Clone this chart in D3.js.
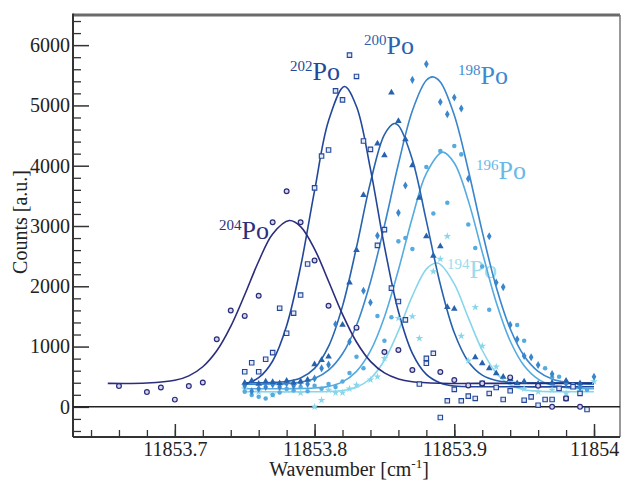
<!DOCTYPE html>
<html>
<head>
<meta charset="utf-8">
<script src="https://cdn.jsdelivr.net/npm/d3@7"></script>
<style>
  html, body { margin: 0; padding: 0; background: #fff; }
  svg { display: block; }
  text { font-family: "Liberation Serif", "Times New Roman", serif; }
</style>
</head>
<body>
<svg id="chart" width="622" height="481"></svg>
<script>
// ---------------- data ----------------
const xTickValues = [11853.7, 11853.8, 11853.9, 11854];
const xTickLabels = ["11853.7", "11853.8", "11853.9", "11854"];
const yTickValues = [0, 1000, 2000, 3000, 4000, 5000, 6000];
const yTickLabels = ["0", "1000", "2000", "3000", "4000", "5000", "6000"];

const isotopes = ["204", "202", "200", "198", "196", "194"];

// measured points [wavenumber, counts]
const po204Points = [[11853.66,344],[11853.68,245],[11853.69,320],[11853.70,120],[11853.71,344],[11853.72,403],[11853.73,1121],[11853.74,1597],[11853.75,1509],[11853.76,1842],[11853.77,3062],[11853.78,3577],[11853.79,3062],[11853.80,2428],[11853.81,1676],[11853.83,1314],[11853.85,910],[11853.86,943],[11853.87,611],[11853.89,577],[11853.90,444],[11853.91,356],[11853.92,389],[11853.94,489],[11853.96,349],[11853.97,0],[11853.98,140],[11853.99,0]];
const po202Points = [[11853.75,582],[11853.755,732],[11853.76,582],[11853.765,789],[11853.77,899],[11853.775,1637],[11853.78,1221],[11853.785,1554],[11853.79,1854],[11853.795,2369],[11853.80,3633],[11853.805,4160],[11853.81,4260],[11853.815,5241],[11853.82,5092],[11853.825,5835],[11853.83,5481],[11853.835,4409],[11853.84,4271],[11853.845,2679],[11853.85,2940],[11853.855,1970],[11853.86,1747],[11853.865,1443],[11853.875,378],[11853.88,805],[11853.88,722],[11853.885,888],[11853.89,-176],[11853.895,100],[11853.90,290],[11853.905,100],[11853.91,178],[11853.915,140],[11853.92,389],[11853.925,223],[11853.93,322],[11853.935,123],[11853.94,266],[11853.95,111],[11853.955,166],[11853.96,28],[11853.965,123],[11853.97,123],[11853.975,306],[11853.98,140],[11853.985,333],[11853.99,223],[11853.995,-44]];
const po200Points = [[11853.75,400],[11853.755,430],[11853.76,380],[11853.765,420],[11853.77,410],[11853.775,390],[11853.78,430],[11853.785,400],[11853.79,420],[11853.795,450],[11853.80,705],[11853.805,777],[11853.81,832],[11853.82,1359],[11853.825,2060],[11853.83,2600],[11853.835,3511],[11853.845,4366],[11853.85,4171],[11853.855,5215],[11853.86,4742],[11853.865,4438],[11853.87,4005],[11853.875,3468],[11853.88,2829],[11853.885,2507],[11853.89,2662],[11853.895,1654],[11853.90,1626],[11853.915,822],[11853.92,722],[11853.925,639],[11853.93,555],[11853.935,499],[11853.94,460],[11853.945,389],[11853.95,420],[11853.96,380],[11853.97,400],[11853.98,430],[11853.99,390]];
const po198Points = [[11853.75,350],[11853.755,260],[11853.76,300],[11853.765,330],[11853.77,370],[11853.775,330],[11853.78,390],[11853.785,350],[11853.79,410],[11853.795,380],[11853.80,470],[11853.805,639],[11853.81,700],[11853.815,1371],[11853.825,1081],[11853.835,1925],[11853.84,1731],[11853.845,2840],[11853.86,3218],[11853.865,3672],[11853.87,5424],[11853.88,5686],[11853.89,5058],[11853.895,4853],[11853.90,5131],[11853.905,4948],[11853.91,3784],[11853.925,2829],[11853.93,2063],[11853.935,1987],[11853.94,1359],[11853.945,1121],[11853.95,844],[11853.955,822],[11853.96,694],[11853.97,544],[11853.98,389],[11853.99,322],[11854.0,499]];
const po196Points = [[11853.75,250],[11853.755,195],[11853.76,166],[11853.765,140],[11853.77,195],[11853.775,240],[11853.78,300],[11853.785,270],[11853.79,330],[11853.795,260],[11853.80,350],[11853.805,300],[11853.81,380],[11853.815,330],[11853.82,420],[11853.825,560],[11853.83,832],[11853.835,639],[11853.845,1509],[11853.85,1098],[11853.855,1488],[11853.86,2745],[11853.865,2800],[11853.87,2619],[11853.88,3977],[11853.885,3206],[11853.89,4243],[11853.895,3384],[11853.90,4326],[11853.905,4188],[11853.91,3023],[11853.915,2635],[11853.92,2330],[11853.925,1609],[11853.945,1359],[11853.95,1098],[11853.965,639],[11853.97,489],[11853.975,499],[11853.985,361],[11853.99,330],[11853.995,280]];
const po194Points = [[11853.75,300],[11853.76,250],[11853.77,200],[11853.78,280],[11853.79,230],[11853.80,0],[11853.805,111],[11853.81,280],[11853.815,233],[11853.82,233],[11853.825,300],[11853.83,361],[11853.84,450],[11853.845,500],[11853.85,805],[11853.86,1471],[11853.87,1498],[11853.875,1138],[11853.885,2246],[11853.89,2453],[11853.895,2829],[11853.905,1176],[11853.91,765],[11853.915,1654],[11853.92,1010],[11853.93,666],[11853.94,456],[11853.95,300],[11853.96,250],[11853.97,280],[11853.98,220],[11853.99,260],[11854.0,420]];

// fitted curves [wavenumber, counts]
const fit204 = [[11853.652,390],[11853.68,395],[11853.70,440],[11853.71,514],[11853.72,665],[11853.73,930],[11853.74,1335],[11853.75,1859],[11853.76,2415],[11853.77,2869],[11853.782,3090],[11853.79,2990],[11853.80,2617],[11853.81,2084],[11853.82,1534],[11853.83,1076],[11853.84,755],[11853.85,563],[11853.86,463],[11853.87,417],[11853.89,392],[11853.93,390],[11854.0,390]];
const fit202 = [[11853.75,377],[11853.76,483],[11853.77,761],[11853.78,1346],[11853.79,2325],[11853.80,3587],[11853.81,4745],[11853.8214,5313],[11853.83,4982],[11853.84,3944],[11853.85,2662],[11853.86,1581],[11853.87,888],[11853.88,538],[11853.89,396],[11853.90,345],[11853.92,334],[11854.0,333]];
const fit200 = [[11853.75,400],[11853.77,405],[11853.78,422],[11853.79,479],[11853.80,639],[11853.81,1002],[11853.82,1671],[11853.83,2647],[11853.84,3724],[11853.85,4516],[11853.857,4700],[11853.86,4666],[11853.87,4100],[11853.88,3085],[11853.89,2031],[11853.90,1229],[11853.91,753],[11853.92,526],[11853.93,437],[11853.94,409],[11853.96,400],[11854.0,400]];
const fit198 = [[11853.75,374],[11853.77,378],[11853.78,386],[11853.79,410],[11853.80,470],[11853.81,608],[11853.82,880],[11853.83,1353],[11853.84,2072],[11853.85,3006],[11853.86,4028],[11853.87,4912],[11853.88,5417],[11853.8845,5474],[11853.89,5389],[11853.90,4837],[11853.91,3929],[11853.92,2907],[11853.93,1989],[11853.94,1296],[11853.95,844],[11853.96,589],[11853.97,462],[11853.98,406],[11853.99,384],[11854.0,375]];
const fit196 = [[11853.75,300],[11853.78,301],[11853.80,312],[11853.81,340],[11853.82,415],[11853.83,589],[11853.84,928],[11853.85,1491],[11853.86,2271],[11853.87,3142],[11853.88,3874],[11853.8917,4226],[11853.90,4044],[11853.91,3421],[11853.92,2567],[11853.93,1736],[11853.94,1093],[11853.95,682],[11853.96,460],[11853.97,358],[11853.98,319],[11853.99,305],[11854.0,300]];
const fit194 = [[11853.75,250],[11853.80,250],[11853.81,255],[11853.82,271],[11853.83,325],[11853.84,470],[11853.85,773],[11853.86,1261],[11853.87,1840],[11853.88,2284],[11853.8869,2386],[11853.89,2365],[11853.90,2039],[11853.91,1481],[11853.92,939],[11853.93,563],[11853.94,366],[11853.95,285],[11853.96,260],[11853.98,252],[11854.0,250]];

// ---------------- layout & style ----------------
const W = 622, H = 481;
const plot = { left: 73, right: 620, top: 15, bottom: 437 };
const colors = { "204": "#2b2d7c", "202": "#22479a", "200": "#2762ad", "198": "#3a86cc", "196": "#55abe0", "194": "#88d6ea" };
const labelColors = { "204": "#2d2f7d", "202": "#23479a", "200": "#2a62ae", "198": "#3d8ad0", "196": "#6ab8e6", "194": "#9adcec" };
const labelPos = { "204": [219, 239], "202": [290, 80], "200": [364, 54], "198": [458, 84], "196": [476, 179], "194": [447, 278] };

const x = d3.scaleLinear().domain([11853.6271, 11854.0186]).range([plot.left, plot.right]);
const y = d3.scaleLinear().domain([-500, 6500]).range([plot.bottom, plot.top]);

const svg = d3.select("#chart");
svg.append("rect").attr("width", W).attr("height", H).attr("fill", "#fff");

// minor ticks
const minorX = d3.range(11853.64, 11854.001, 0.02);
const minorY = d3.range(-400, 6401, 200).filter(v => v % 1000 !== 0);

svg.append("g").attr("transform", `translate(0,${plot.bottom})`)
  .call(d3.axisBottom(x).tickValues(minorX).tickSizeInner(-7).tickSizeOuter(0).tickFormat(""))
  .call(g => g.select(".domain").remove())
  .call(g => g.selectAll("line").attr("stroke", "#333").attr("stroke-width", 1.3));
svg.append("g").attr("transform", `translate(${plot.left},0)`)
  .call(d3.axisLeft(y).tickValues(minorY).tickSizeInner(-8).tickSizeOuter(0).tickFormat(""))
  .call(g => g.select(".domain").remove())
  .call(g => g.selectAll("line").attr("stroke", "#333").attr("stroke-width", 1.3));

// major ticks + labels
svg.append("g").attr("transform", `translate(0,${plot.bottom})`)
  .call(d3.axisBottom(x).tickValues(xTickValues).tickSizeInner(-13).tickSizeOuter(0).tickPadding(5)
    .tickFormat((d, i) => xTickLabels[i]))
  .call(g => g.select(".domain").remove())
  .call(g => g.selectAll("line").attr("stroke", "#333").attr("stroke-width", 1.5))
  .call(g => g.selectAll("text").attr("font-size", 20).attr("fill", "#222")
    .attr("font-family", '"Liberation Serif", serif'));
svg.append("g").attr("transform", `translate(${plot.left},0)`)
  .call(d3.axisLeft(y).tickValues(yTickValues).tickSizeInner(-16).tickSizeOuter(0).tickPadding(3)
    .tickFormat((d, i) => yTickLabels[i]))
  .call(g => g.select(".domain").remove())
  .call(g => g.selectAll("line").attr("stroke", "#333").attr("stroke-width", 1.5))
  .call(g => g.selectAll("text").attr("font-size", 20).attr("fill", "#222")
    .attr("font-family", '"Liberation Serif", serif'));

// frame
svg.append("line").attr("x1", plot.left).attr("x2", plot.right).attr("y1", plot.top).attr("y2", plot.top)
  .attr("stroke", "#6a6a6a").attr("stroke-width", 3);
svg.append("line").attr("x1", plot.right).attr("x2", plot.right).attr("y1", plot.top).attr("y2", plot.bottom)
  .attr("stroke", "#777").attr("stroke-width", 1.5);
svg.append("line").attr("x1", plot.left).attr("x2", plot.left).attr("y1", plot.top - 1.5).attr("y2", plot.bottom)
  .attr("stroke", "#333").attr("stroke-width", 2);
svg.append("line").attr("x1", plot.left).attr("x2", plot.right).attr("y1", plot.bottom).attr("y2", plot.bottom)
  .attr("stroke", "#333").attr("stroke-width", 2);
// zero line
svg.append("line").attr("x1", plot.left).attr("x2", plot.right).attr("y1", y(0)).attr("y2", y(0))
  .attr("stroke", "#222").attr("stroke-width", 1.5);

// axis titles
svg.append("text").attr("x", 349).attr("y", 476).attr("text-anchor", "middle")
  .attr("font-size", 20).attr("fill", "#222")
  .call(t => {
    t.append("tspan").text("Wavenumber [cm");
    t.append("tspan").attr("font-size", 13).attr("dy", -8).text("-1");
    t.append("tspan").attr("dy", 8).text("]");
  });
svg.append("text").attr("transform", "translate(27,222) rotate(-90)").attr("text-anchor", "middle")
  .attr("font-size", 20).attr("fill", "#222").text("Counts [a.u.]");

// isotope labels
isotopes.forEach(iso => {
  const [lx, ly] = labelPos[iso];
  const t = svg.append("text").attr("x", lx).attr("y", ly).attr("fill", labelColors[iso]);
  t.append("tspan").attr("font-size", 15).attr("dy", -9).text(iso);
  t.append("tspan").attr("font-size", 26).attr("dy", 9).text("Po");
});

// fit curves
const fits = { "204": fit204, "202": fit202, "200": fit200, "198": fit198, "196": fit196, "194": fit194 };
const line = d3.line().x(d => x(d[0])).y(d => y(d[1])).curve(d3.curveCatmullRom.alpha(0.5));
["194", "196", "198", "200", "202", "204"].forEach(iso => {
  svg.append("path").datum(fits[iso]).attr("d", line)
    .attr("fill", "none").attr("stroke", colors[iso]).attr("stroke-width", 1.6);
});

// points
const pts = { "204": po204Points, "202": po202Points, "200": po200Points, "198": po198Points, "196": po196Points, "194": po194Points };
const symbols = {
  "204": { type: d3.symbolCircle, size: 18, fill: "#d4d6ea", stroke: colors["204"], sw: 1.2 },
  "202": { type: d3.symbolSquare, size: 20, fill: "#e4e8f4", stroke: colors["202"], sw: 1.1 },
  "200": { type: d3.symbolTriangle, size: 19, fill: colors["200"], stroke: "none", sw: 0 },
  "198": { type: d3.symbolDiamond, size: 19, fill: colors["198"], stroke: "none", sw: 0 },
  "196": { type: d3.symbolCircle, size: 16, fill: colors["196"], stroke: "none", sw: 0 },
  "194": { type: d3.symbolStar, size: 18, fill: colors["194"], stroke: "none", sw: 0 }
};
["194", "196", "198", "200", "202", "204"].forEach(iso => {
  const s = symbols[iso];
  svg.append("g").selectAll("path").data(pts[iso]).join("path")
    .attr("transform", d => `translate(${x(d[0])},${y(d[1])})`)
    .attr("d", d3.symbol().type(s.type).size(s.size))
    .attr("fill", s.fill).attr("stroke", s.stroke).attr("stroke-width", s.sw);
});
</script>
</body>
</html>
